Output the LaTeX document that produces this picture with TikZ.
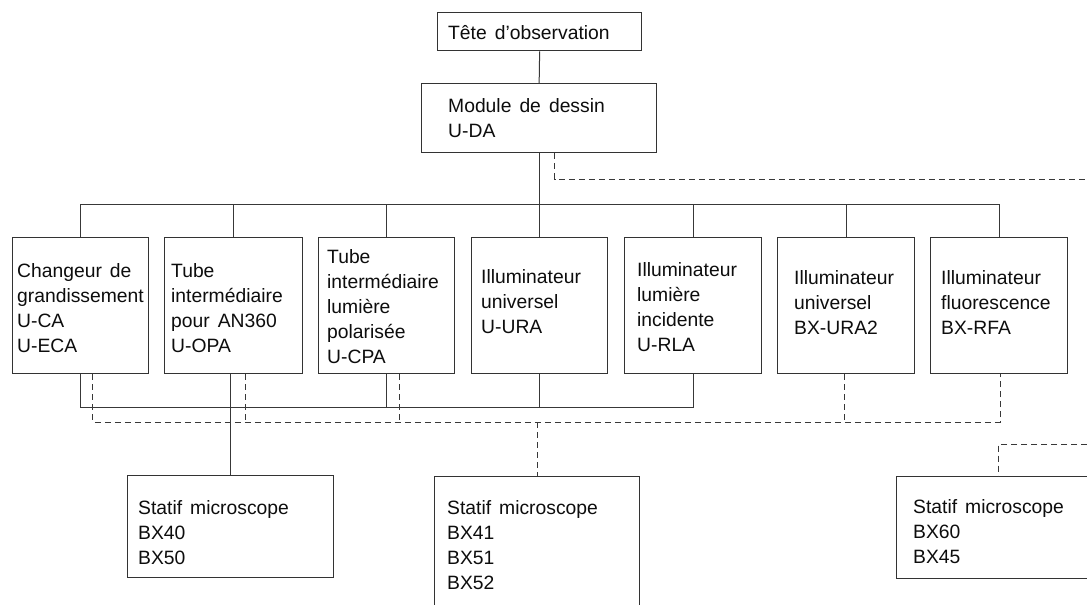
\documentclass[tikz,border=0pt]{standalone}
\usepackage{fontspec}
\setmainfont{Liberation Sans}[WordSpace=1.5]
\begin{document}
\begin{tikzpicture}[x=1pt,y=-1pt,
  box/.style={draw=black!80, line width=1.3pt, anchor=north west, inner sep=0pt, fill=white},
  txt/.style={anchor=base west, align=left, inner sep=0pt, font=\fontsize{19.3}{25}\selectfont, text=black!95},
  link/.style={draw=black!78, line width=1pt},
  dlink/.style={link, dash pattern=on 6pt off 4pt}]
\useasboundingbox[fill=white] (0,0) rectangle (1087,605);
\clip (0,0) rectangle (1087,605);
% coordinates for buses and free ends
\coordinate (topbus) at (0,204);
\coordinate (solbus) at (0,407);
\coordinate (dashbus) at (0,422);
\coordinate (dtop) at (0,179);
\coordinate (redgeA) at (1087,179);
\coordinate (redgeB) at (1087,444);
% top boxes
\node[box, minimum width=204, minimum height=38] (tete) at (437,12) {};
\node[box, minimum width=235, minimum height=69] (module) at (421,83) {};
% middle boxes
\node[box, minimum width=136, minimum height=136] (b1) at (12,237) {};
\node[box, minimum width=138, minimum height=136] (b2) at (164,237) {};
\node[box, minimum width=136, minimum height=136] (b3) at (318,237) {};
\node[box, minimum width=136, minimum height=136] (b4) at (471,237) {};
\node[box, minimum width=137, minimum height=136] (b5) at (624,237) {};
\node[box, minimum width=137, minimum height=136] (b6) at (777,237) {};
\node[box, minimum width=137, minimum height=136] (b7) at (930,237) {};
% bottom boxes
\node[box, minimum width=206, minimum height=102] (s1) at (127,475) {};
\node[box, minimum width=205, minimum height=160] (s2) at (434,476) {};
\node[box, minimum width=204, minimum height=102] (s3) at (896,476) {};
% solid connectors
\draw[link] (tete.south) -- (module.north);
\draw[link] (module.south) -- (module.south |- topbus);
\draw[link] (b1.north) -- (b1.north |- topbus) -- (b7.north |- topbus) -- (b7.north);
\foreach \n in {b2,b3,b4,b5,b6} \draw[link] (\n.north) -- (\n.north |- topbus);
\draw[link] (b1.south) -- (b1.south |- solbus) -- (b5.south |- solbus) -- (b5.south);
\draw[link] (b3.south) -- (b3.south |- solbus);
\draw[link] (b4.south) -- (b4.south |- solbus);
\draw[link] (s1.north) -- (s1.north |- b2.south);
% dashed connectors
\draw[dlink] ([xshift=15.5pt]module.south) -- ([xshift=15.5pt]module.south |- dtop) -- (redgeA);
\draw[dlink] ([xshift=12pt]b1.south) -- ([xshift=12pt]b1.south |- dashbus) -- ([xshift=1pt]b7.south |- dashbus) -- ([xshift=1pt]b7.south);
\draw[dlink] ([xshift=12pt]b2.south) -- ([xshift=12pt]b2.south |- dashbus);
\draw[dlink] ([xshift=13pt]b3.south) -- ([xshift=13pt]b3.south |- dashbus);
\draw[dlink] ([xshift=-2pt]b6.south) -- ([xshift=-2pt]b6.south |- dashbus);
\draw[dlink] (s2.north |- dashbus) -- (s2.north);
\draw[dlink] (redgeB) -- (s3.north |- redgeB) -- (s3.north);
% texts (anchored at the baseline of the last line)
\node[txt] (t0) at (448,39) {Tête d’observation};
\node[txt] (tm) at (448,137) {Module de dessin\\U-DA};
\node[txt] (t1) at (17,352) {Changeur de\\grandissement\\U-CA\\U-ECA};
\node[txt] (t2) at (171,352) {Tube\\intermédiaire\\pour AN360\\U-OPA};
\node[txt] (t3) at (327,363) {Tube\\intermédiaire\\lumière\\polarisée\\U-CPA};
\node[txt] (t4) at (481,333) {Illuminateur\\universel\\U-URA};
\node[txt] (t5) at (637,351) {Illuminateur\\lumière\\incidente\\U-RLA};
\node[txt] (t6) at (794,334) {Illuminateur\\universel\\BX-URA2};
\node[txt] (t7) at (941,334) {Illuminateur\\fluorescence\\BX-RFA};
\node[txt] (ts1) at (138,564) {Statif microscope\\BX40\\BX50};
\node[txt] (ts2) at (447,589) {Statif microscope\\BX41\\BX51\\BX52};
\node[txt] (ts3) at (913,563) {Statif microscope\\BX60\\BX45};
\end{tikzpicture}
\end{document}
